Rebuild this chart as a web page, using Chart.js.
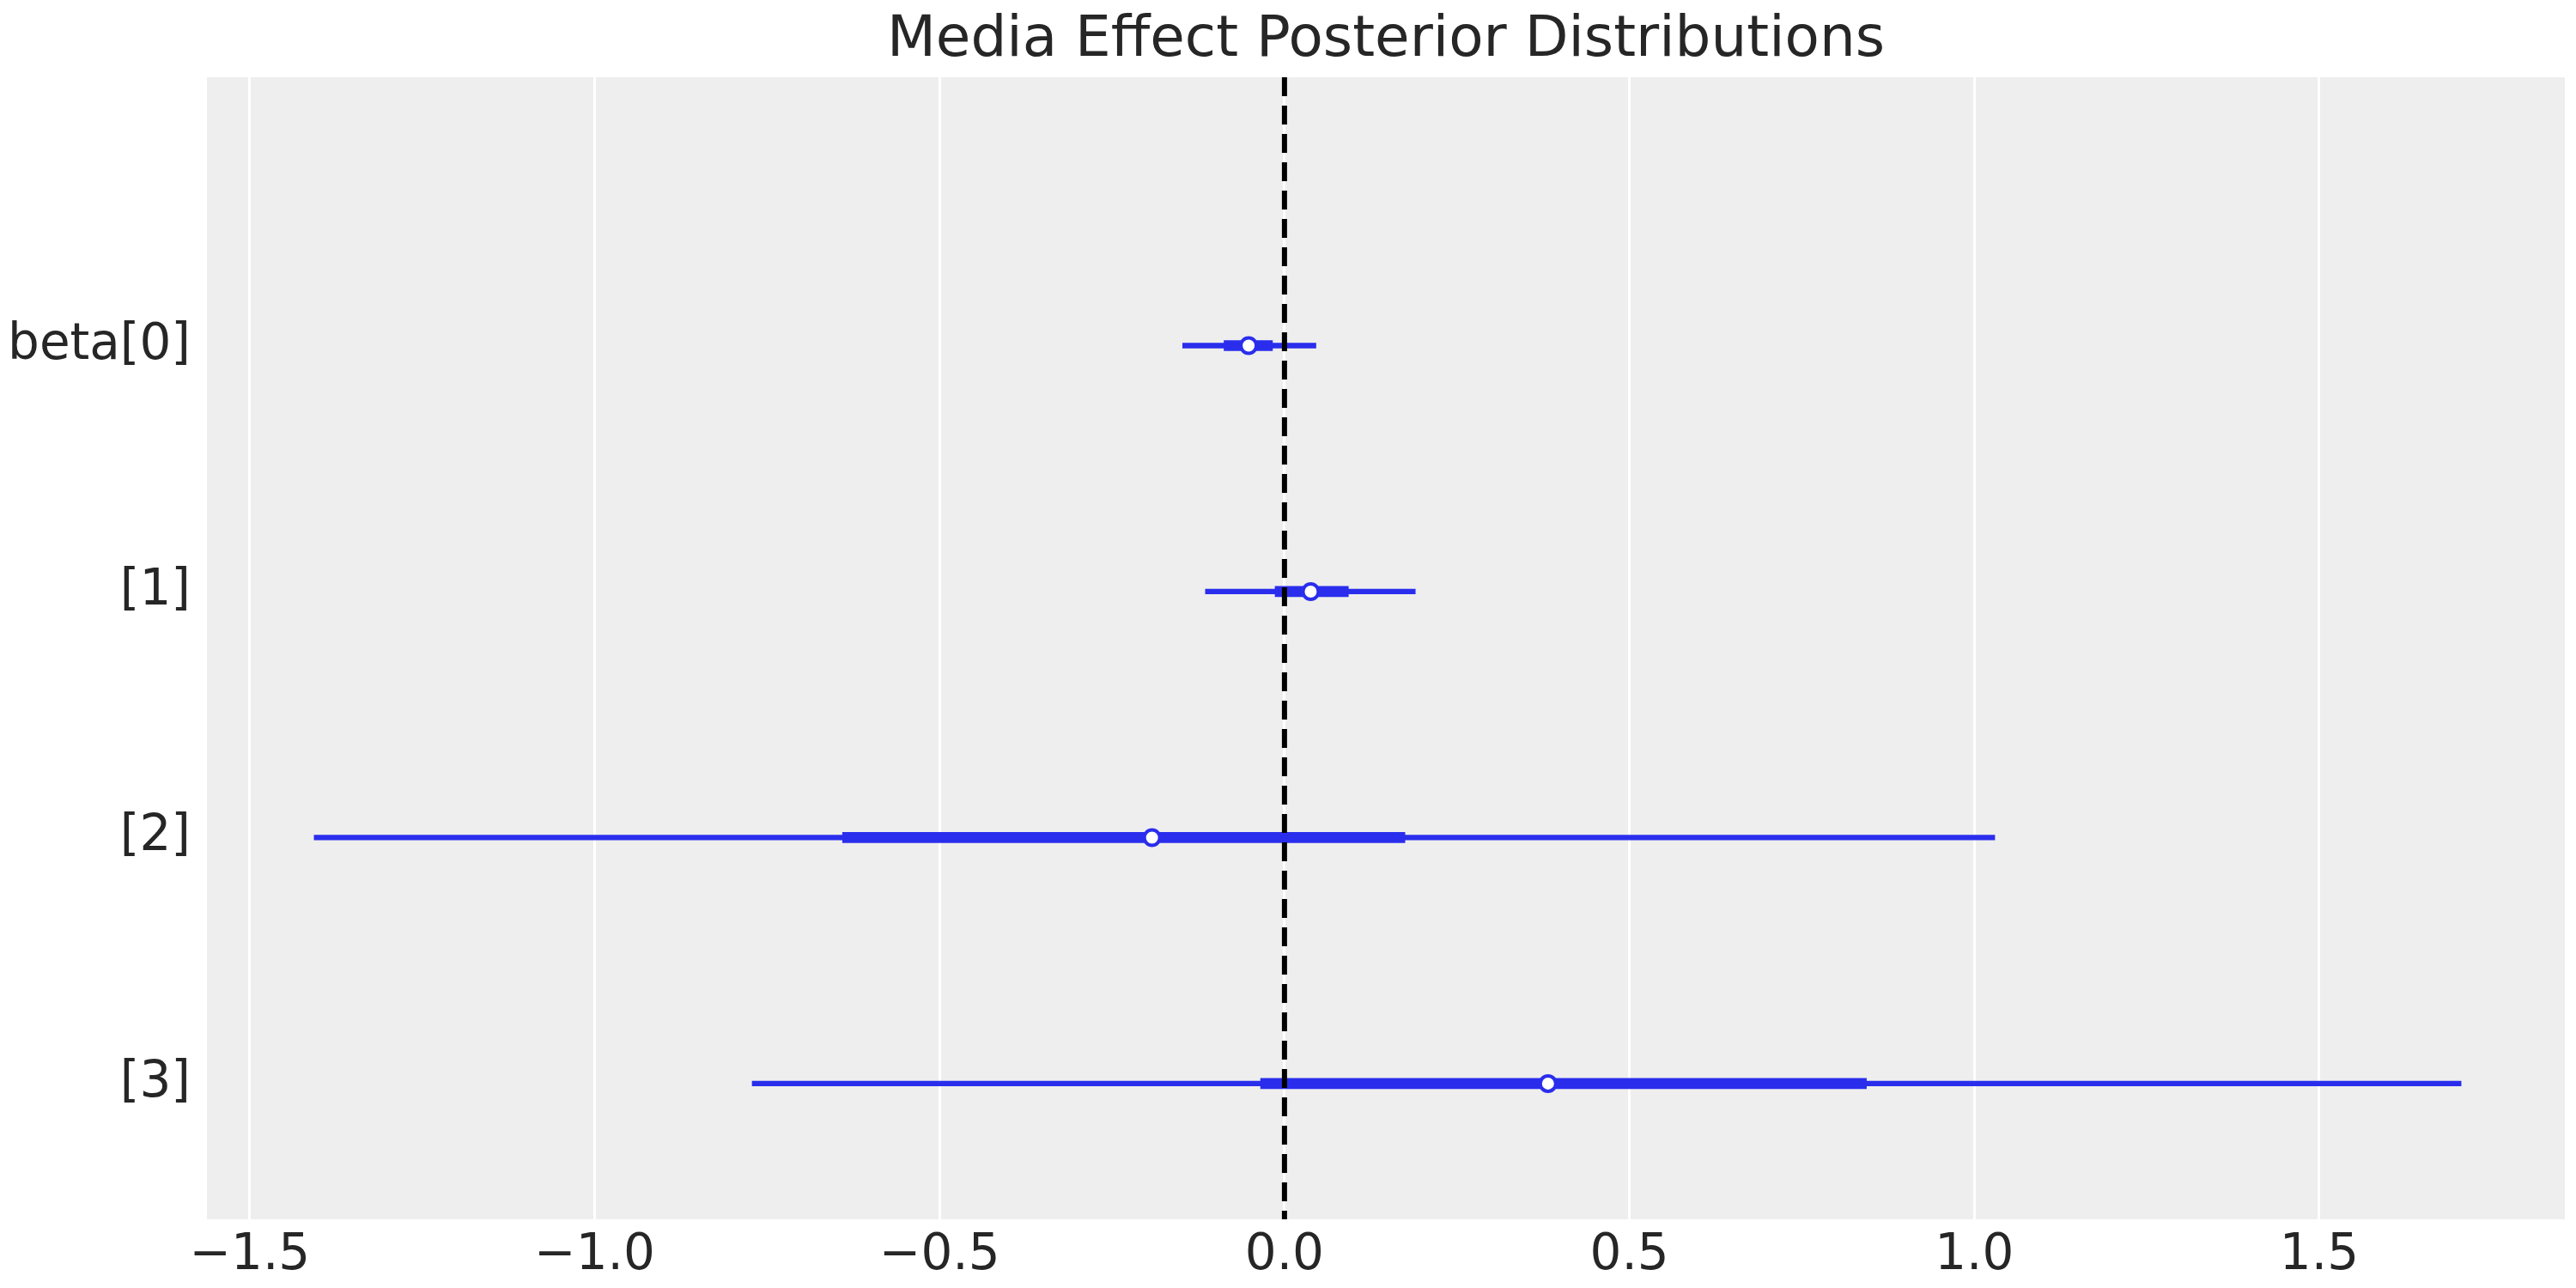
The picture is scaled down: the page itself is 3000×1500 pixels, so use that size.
<!DOCTYPE html>
<html>
<head>
<meta charset="utf-8">
<script src="https://cdn.jsdelivr.net/npm/chart.js@4.4.1/dist/chart.umd.min.js"></script>
<style>
  body { margin: 0; background: #ffffff; }
  #wrap { width: 3000px; height: 1500px; }
</style>
</head>
<body>
<div id="wrap"><canvas id="forest" width="3000" height="1500"></canvas></div>
<script>
// rows of the forest plot, top to bottom
const rowLabels = ['beta[0]', '[1]', '[2]', '[3]'];
// 94% HDI (thin line)
const hdiLow = [-0.148, -0.115, -1.407, -0.772];
const hdiHigh = [0.046, 0.190, 1.030, 1.706];
// interquartile range (thick line)
const iqrLow = [-0.088, -0.014, -0.641, -0.035];
const iqrHigh = [-0.017, 0.093, 0.175, 0.844];
// point estimate
const medians = [-0.052, 0.038, -0.192, 0.382];
// x axis ticks
const xTicks = [-1.5, -1.0, -0.5, 0.0, 0.5, 1.0, 1.5];
const refValue = 0;
const titleText = 'Media Effect Posterior Distributions';

const blue = '#2a2eec';
const textColor = '#262626';
const yMin = -1.091, yMax = 3.552;

const datasets = [];

// reference line, drawn on top
datasets.push({
  type: 'line',
  data: [{ x: refValue, y: yMin }, { x: refValue, y: yMax }],
  borderColor: '#000000',
  borderWidth: 6,
  borderDash: [22, 11],
  borderCapStyle: 'butt',
  pointRadius: 0,
  order: 0
});

// median markers
datasets.push({
  type: 'scatter',
  data: medians.map((m, i) => ({ x: m, y: i })),
  pointRadius: 9,
  pointBorderWidth: 4,
  pointBackgroundColor: '#ffffff',
  pointBorderColor: blue,
  order: 1
});

rowLabels.forEach((lab, i) => {
  datasets.push({
    type: 'line',
    data: [{ x: iqrLow[i], y: i }, { x: iqrHigh[i], y: i }],
    borderColor: blue,
    borderWidth: 12.7,
    borderCapStyle: 'butt',
    pointRadius: 0,
    order: 2
  });
  datasets.push({
    type: 'line',
    data: [{ x: hdiLow[i], y: i }, { x: hdiHigh[i], y: i }],
    borderColor: blue,
    borderWidth: 6.3,
    borderCapStyle: 'butt',
    pointRadius: 0,
    order: 3
  });
});

// grey plot background + title centred over the plot area
const plotBg = {
  id: 'plotBg',
  beforeDraw(chart) {
    const a = chart.chartArea;
    const ctx = chart.ctx;
    ctx.save();
    ctx.fillStyle = '#eeeeee';
    ctx.fillRect(a.left, a.top, a.right - a.left, a.bottom - a.top);
    ctx.fillStyle = textColor;
    ctx.font = '66px "DejaVu Sans"';
    ctx.textAlign = 'center';
    ctx.textBaseline = 'alphabetic';
    ctx.fillText(titleText, (a.left + a.right) / 2, 65);
    ctx.restore();
  }
};

new Chart(document.getElementById('forest'), {
  type: 'scatter',
  data: { datasets: datasets },
  plugins: [plotBg],
  options: {
    responsive: false,
    devicePixelRatio: 1,
    animation: false,
    layout: { padding: { left: 0, right: 4, top: 90, bottom: 0 } },
    plugins: {
      legend: { display: false },
      tooltip: { enabled: false },
      title: { display: false }
    },
    scales: {
      x: {
        type: 'linear',
        min: -1.562,
        max: 1.856,
        afterBuildTicks: (scale) => { scale.ticks = xTicks.map(v => ({ value: v })); },
        afterFit: (scale) => { scale.height = 80; },
        border: { display: false },
        grid: { color: '#ffffff', lineWidth: 3, drawTicks: false },
        ticks: {
          color: textColor,
          padding: 8,
          font: { family: 'DejaVu Sans', size: 58 },
          callback: (v) => v.toFixed(1).replace('-', '\u2212')
        }
      },
      y: {
        type: 'linear',
        reverse: true,
        min: yMin,
        max: yMax,
        afterBuildTicks: (scale) => { scale.ticks = rowLabels.map((l, i) => ({ value: i })); },
        afterFit: (scale) => { scale.width = 241; },
        border: { display: false },
        grid: { display: false, drawTicks: false },
        ticks: {
          color: textColor,
          padding: 19,
          font: { family: 'DejaVu Sans', size: 58 },
          callback: (v) => rowLabels[v]
        }
      }
    }
  }
});
</script>
</body>
</html>
